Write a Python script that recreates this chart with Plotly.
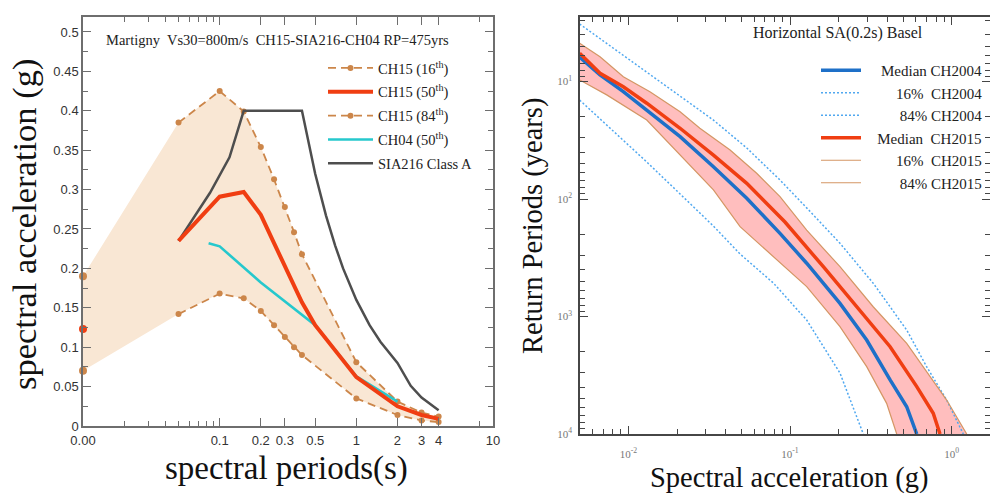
import plotly.graph_objects as go

# ---------------- Left panel: Martigny uniform-hazard spectra (RP = 475 yrs) ----------------
pga_period = 0.01            # PGA drawn at the left edge of the period axis (labelled 0.00)
pga_p16 = 0.070
pga_p50 = 0.123
pga_p84 = 0.190

periods_ch15 = [0.05, 0.1, 0.15, 0.2, 0.25, 0.3, 0.35, 0.4, 1.0, 2.0, 3.0, 4.0]
ch15_p16 = [0.142, 0.168, 0.162, 0.146, 0.128, 0.113, 0.100, 0.090, 0.035, 0.014, 0.007, 0.005]
ch15_p84 = [0.385, 0.425, 0.399, 0.354, 0.313, 0.278, 0.246, 0.218, 0.081, 0.031, 0.017, 0.012]

periods_ch15_med = [0.05, 0.1, 0.15, 0.2, 0.25, 0.3, 0.35, 0.4, 0.5, 1.0, 2.0, 3.0, 4.0]
ch15_p50 = [0.235, 0.291, 0.297, 0.268, 0.232, 0.203, 0.176, 0.157, 0.128, 0.062, 0.025, 0.014, 0.009]

periods_ch04 = [0.083, 0.1, 0.2, 0.5, 1.0, 2.0]
ch04_p50 = [0.232, 0.228, 0.182, 0.128, 0.063, 0.031]

periods_sia = [0.05, 0.085, 0.118, 0.15, 0.4, 0.5, 0.6, 0.7, 0.8, 1.0, 1.25, 1.5, 2.0, 2.5, 3.0, 4.0]
sia216_a = [0.235, 0.296, 0.341, 0.400, 0.400, 0.320, 0.267, 0.229, 0.200, 0.160, 0.128, 0.107,
            0.080, 0.051, 0.036, 0.020]

period_tickvals = [0.01, 0.1, 0.2, 0.3, 0.5, 1, 2, 3, 4, 10]
period_ticktext = ["0.00", "0.1", "0.2", "0.3", "0.5", "1", "2", "3", "4", "10"]
period_minor = [0.02, 0.03, 0.04, 0.05, 0.06, 0.07, 0.08, 0.09, 8]
sa_tickvals = [0, 0.05, 0.1, 0.15, 0.2, 0.25, 0.3, 0.35, 0.4, 0.45, 0.5]
sa_ticktext = ["0", "0.05", "0.1", "0.15", "0.2", "0.25", "0.3", "0.35", "0.4", "0.45", "0.5"]

# ---------------- Right panel: Basel hazard curves, horizontal SA(0.2 s) ----------------
sa_med_2004 = [0.0050, 0.00668, 0.00931, 0.0130, 0.0209, 0.0336, 0.0540, 0.0867, 0.1268, 0.2037,
               0.298, 0.416, 0.527, 0.608]
rp_med_2004 = [6.2, 8.8, 12.2, 17.5, 29.5, 53.1, 98.6, 196, 352, 773, 1585, 3467, 5861, 10000]

sa_p16_2004 = [0.0050, 0.00807, 0.0130, 0.0209, 0.0336, 0.0491, 0.0789, 0.1268, 0.2037, 0.284]
rp_p16_2004 = [14.4, 26.4, 48.4, 90.6, 170, 294, 519, 1072, 3027, 10000]

sa_p84_2004 = [0.0050, 0.00807, 0.0130, 0.0209, 0.0336, 0.0540, 0.0867, 0.1268, 0.2037, 0.327,
               0.527, 0.700, 0.931, 1.18]
rp_p84_2004 = [3.24, 5.19, 8.3, 13.3, 21.3, 36.8, 68.9, 119, 238, 521, 1303, 2673, 5140, 10000]

sa_med_2015 = [0.0050, 0.00668, 0.00931, 0.0130, 0.0209, 0.0336, 0.0540, 0.0931, 0.1607, 0.258,
               0.416, 0.608, 0.769, 0.847]
rp_med_2015 = [5.75, 8.51, 11.1, 15.3, 25.0, 42.3, 73.5, 157, 377, 826, 1807, 3954, 6668, 10000]

sa_p16_2015 = [0.0050, 0.00735, 0.0130, 0.0209, 0.0336, 0.0491, 0.0789, 0.1268, 0.2037, 0.298,
               0.396, 0.457]
rp_p16_2015 = [9.71, 13.0, 21.3, 42.3, 83.7, 172, 310, 557, 1222, 2673, 5483, 10000]

sa_p84_2015 = [0.0050, 0.00668, 0.00931, 0.0136, 0.0209, 0.0277, 0.0426, 0.0622, 0.0867, 0.1268,
               0.2037, 0.327, 0.527, 0.734, 0.931, 1.239]
rp_p84_2015 = [4.73, 6.15, 9.10, 12.2, 18.1, 25.0, 38.3, 60.4, 95.5, 184, 377, 826, 1690, 3251,
               5140, 10000]

acc_tickvals = [0.01, 0.1, 1]
acc_ticktext = ["10<sup>-2</sup>", "10<sup>-1</sup>", "10<sup>0</sup>"]
acc_minor = [m * 10.0 ** e for e in (-3, -2, -1) for m in range(2, 10)
             if 0.0051 < m * 10.0 ** e < 1.7]
rp_tickvals = [10, 100, 1000, 10000]
rp_ticktext = ["10<sup>1</sup>", "10<sup>2</sup>", "10<sup>3</sup>", "10<sup>4</sup>"]
rp_minor = [m * 10.0 ** e for e in (0, 1, 2, 3) for m in range(2, 10) if m * 10.0 ** e > 2.9]

# ---------------- styling ----------------
SERIF = "Liberation Serif"
SANS = "Liberation Sans"
PEACH = "rgb(249,231,212)"
TAN = "rgb(204,134,74)"
RED = "rgb(240,62,18)"
CYAN = "rgb(38,200,205)"
DARK = "rgb(78,78,78)"
BLUE = "rgb(30,112,200)"
LIGHTBLUE = "rgb(80,168,240)"
PINK = "rgb(255,190,190)"
BAND_EDGE = "rgb(212,150,100)"

fig = go.Figure()

# CH15 16th-84th band, including PGA at the left edge
fig.add_trace(go.Scatter(
    x=[pga_period] + periods_ch15 + periods_ch15[::-1] + [pga_period],
    y=[pga_p84] + ch15_p84 + ch15_p16[::-1] + [pga_p16],
    fill="toself", fillcolor=PEACH, line=dict(width=0), mode="lines",
    showlegend=False, hoverinfo="skip", xaxis="x", yaxis="y"))

fig.add_trace(go.Scatter(
    x=periods_ch15, y=ch15_p16, mode="lines+markers", name="CH15 (16<sup>th</sup>)",
    line=dict(color=TAN, width=1.8, dash="8px,5px"), marker=dict(color=TAN, size=6),
    legend="legend", legendrank=1, legendgroup="a", xaxis="x", yaxis="y"))
fig.add_trace(go.Scatter(
    x=periods_ch15, y=ch15_p84, mode="lines+markers", name="CH15 (84<sup>th</sup>)",
    line=dict(color=TAN, width=1.8, dash="8px,5px"), marker=dict(color=TAN, size=6),
    legend="legend", legendrank=3, legendgroup="c", xaxis="x", yaxis="y"))
fig.add_trace(go.Scatter(
    x=periods_sia, y=sia216_a, mode="lines", name="SIA216 Class A",
    line=dict(color=DARK, width=2.5), legend="legend", legendrank=5, legendgroup="e",
    xaxis="x", yaxis="y"))
fig.add_trace(go.Scatter(
    x=periods_ch04, y=ch04_p50, mode="lines", name="CH04 (50<sup>th</sup>)",
    line=dict(color=CYAN, width=2.6), legend="legend", legendrank=4, legendgroup="d",
    xaxis="x", yaxis="y"))
fig.add_trace(go.Scatter(
    x=periods_ch15_med, y=ch15_p50, mode="lines", name="CH15 (50<sup>th</sup>)",
    line=dict(color=RED, width=4), legend="legend", legendrank=2, legendgroup="b",
    xaxis="x", yaxis="y"))

# PGA values
fig.add_trace(go.Scatter(
    x=[pga_period, pga_period], y=[pga_p16, pga_p84], mode="markers",
    marker=dict(color=TAN, size=8), cliponaxis=False, showlegend=False,
    xaxis="x", yaxis="y"))
fig.add_trace(go.Scatter(
    x=[pga_period], y=[pga_p50], mode="markers", marker=dict(color=RED, size=8),
    cliponaxis=False, showlegend=False, xaxis="x", yaxis="y"))

# CH2015 16-84% band
fig.add_trace(go.Scatter(
    x=sa_p84_2015 + sa_p16_2015[::-1], y=rp_p84_2015 + rp_p16_2015[::-1],
    fill="toself", fillcolor=PINK, line=dict(width=0), mode="lines",
    showlegend=False, hoverinfo="skip", xaxis="x2", yaxis="y2"))

# legend labels are right-aligned with non-breaking-space padding
NB = "\u00a0"
PAD = NB * 3
fig.add_trace(go.Scatter(
    x=sa_p16_2004, y=rp_p16_2004, mode="lines", name=PAD + NB * 5 + "16%" + NB * 2 + "CH2004",
    line=dict(color=LIGHTBLUE, width=1.5, dash="2px,2px"), legend="legend2", legendrank=2,
    xaxis="x2", yaxis="y2"))
fig.add_trace(go.Scatter(
    x=sa_p84_2004, y=rp_p84_2004, mode="lines", name=PAD + NB * 6 + "84%" + NB + "CH2004",
    line=dict(color=LIGHTBLUE, width=1.5, dash="2px,2px"), legend="legend2", legendrank=3,
    xaxis="x2", yaxis="y2"))
fig.add_trace(go.Scatter(
    x=sa_p16_2015, y=rp_p16_2015, mode="lines", name=PAD + NB * 5 + "16%" + NB * 2 + "CH2015",
    line=dict(color=BAND_EDGE, width=1.2), legend="legend2", legendrank=5,
    xaxis="x2", yaxis="y2"))
fig.add_trace(go.Scatter(
    x=sa_p84_2015, y=rp_p84_2015, mode="lines", name=PAD + NB * 6 + "84%" + NB + "CH2015",
    line=dict(color=BAND_EDGE, width=1.2), legend="legend2", legendrank=6,
    xaxis="x2", yaxis="y2"))
fig.add_trace(go.Scatter(
    x=sa_med_2004, y=rp_med_2004, mode="lines", name=PAD + NB + "Median" + NB + "CH2004",
    line=dict(color=BLUE, width=3.5), legend="legend2", legendrank=1,
    xaxis="x2", yaxis="y2"))
fig.add_trace(go.Scatter(
    x=sa_med_2015, y=rp_med_2015, mode="lines", name=PAD + "Median" + NB * 2 + "CH2015",
    line=dict(color=RED, width=3.5), legend="legend2", legendrank=4,
    xaxis="x2", yaxis="y2"))

W, H = 990, 496


def px_x(v):
    return v / W


def px_y(v):
    return 1 - v / H


left_axis_line = "rgb(110,110,110)"
right_axis_line = "rgb(70,70,70)"

fig.update_layout(
    width=W, height=H, margin=dict(l=0, r=0, t=0, b=0, autoexpand=False),
    paper_bgcolor="white", plot_bgcolor="white",
    xaxis=dict(
        type="log", range=[-2, 1], domain=[px_x(83), px_x(493)], anchor="y", automargin=False,
        showline=True, linecolor=left_axis_line, linewidth=1.5, mirror="allticks",
        ticks="inside", ticklen=8, tickwidth=1, tickcolor=left_axis_line,
        tickvals=period_tickvals, ticktext=period_ticktext, ticklabelstandoff=2,
        tickfont=dict(family=SANS, size=13, color="#333"),
        minor=dict(tickvals=period_minor, ticks="inside", ticklen=5, tickcolor=left_axis_line),
        showgrid=False, zeroline=False),
    yaxis=dict(
        range=[0, 0.519], domain=[px_y(426), px_y(17)], anchor="x", automargin=False,
        showline=True, linecolor=left_axis_line, linewidth=1.5, mirror="allticks",
        ticks="inside", ticklen=8, tickwidth=1, tickcolor=left_axis_line,
        tickvals=sa_tickvals, ticktext=sa_ticktext,
        tickfont=dict(family=SANS, size=13, color="#333"),
        minor=dict(dtick=0.025, ticks="inside", ticklen=5, tickcolor=left_axis_line),
        showgrid=False, zeroline=False),
    xaxis2=dict(
        type="log", range=[-2.299, 0.237], domain=[px_x(580), 1.0], anchor="y2", automargin=False,
        showline=True, linecolor=right_axis_line, linewidth=1.5, mirror="allticks",
        ticks="inside", ticklen=8, tickwidth=1, tickcolor=right_axis_line,
        tickvals=acc_tickvals, ticktext=acc_ticktext, ticklabelstandoff=9,
        tickfont=dict(family=SERIF, size=11, color="#777"),
        minor=dict(tickvals=acc_minor, ticks="inside", ticklen=5, tickcolor=right_axis_line),
        showgrid=False, zeroline=False),
    yaxis2=dict(
        type="log", range=[4, 0.451], domain=[px_y(434), px_y(17)], anchor="x2", automargin=False,
        showline=True, linecolor=right_axis_line, linewidth=1.5, mirror="allticks",
        ticks="inside", ticklen=8, tickwidth=1, tickcolor=right_axis_line,
        tickvals=rp_tickvals, ticktext=rp_ticktext, ticklabelstandoff=4,
        tickfont=dict(family=SERIF, size=11, color="#777"),
        minor=dict(tickvals=rp_minor, ticks="inside", ticklen=5, tickcolor=right_axis_line),
        showgrid=False, zeroline=False),
    legend=dict(
        x=px_x(323), y=px_y(52), xanchor="left", yanchor="top",
        bgcolor="rgba(0,0,0,0)", font=dict(family=SERIF, size=14.5, color="#222"),
        itemwidth=45, traceorder="grouped", tracegroupgap=2),
    legend2=dict(
        x=px_x(988), y=px_y(54), xanchor="right", yanchor="top",
        bgcolor="rgba(0,0,0,0)", font=dict(family=SERIF, size=15, color="#222"),
        itemwidth=40, traceorder="normal"),
    annotations=[
        dict(text="Martigny  Vs30=800m/s  CH15-SIA216-CH04 RP=475yrs",
             x=px_x(104), y=px_y(40), xref="paper", yref="paper", xanchor="left",
             yanchor="middle", showarrow=False, font=dict(family=SERIF, size=14.5, color="#222")),
        dict(text="spectral acceleration (g)", textangle=-90,
             x=px_x(24), y=px_y(225), xref="paper", yref="paper", xanchor="center",
             yanchor="middle", showarrow=False, font=dict(family=SERIF, size=34.5, color="#111")),
        dict(text="spectral periods(s)",
             x=px_x(286), y=px_y(468), xref="paper", yref="paper", xanchor="center",
             yanchor="middle", showarrow=False, font=dict(family=SERIF, size=33, color="#111")),
        dict(text="Horizontal SA(0.2s) Basel",
             x=px_x(751), y=px_y(33), xref="paper", yref="paper", xanchor="left",
             yanchor="middle", showarrow=False, font=dict(family=SERIF, size=16, color="#222")),
        dict(text="Return Periods (years)", textangle=-90,
             x=px_x(533), y=px_y(226), xref="paper", yref="paper", xanchor="center",
             yanchor="middle", showarrow=False, font=dict(family=SERIF, size=28.5, color="#111")),
        dict(text="Spectral acceleration (g)",
             x=px_x(789), y=px_y(478), xref="paper", yref="paper", xanchor="center",
             yanchor="middle", showarrow=False, font=dict(family=SERIF, size=28.5, color="#111")),
    ],
)

fig.write_html("out.html")
